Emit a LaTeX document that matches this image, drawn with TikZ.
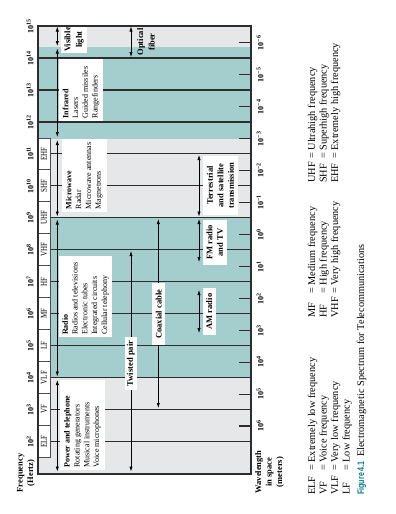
\documentclass[tikz,border=0pt]{standalone}
\usepackage{fontspec}
\setmainfont{Liberation Serif}
\newfontfamily\condfont[FakeStretch=0.78]{Liberation Serif}
\newfontfamily\figfont[FakeStretch=0.75]{Liberation Sans}
\usetikzlibrary{arrows.meta}
\definecolor{tealfill}{RGB}{164,205,205}
\definecolor{grayfill}{RGB}{230,231,233}
\definecolor{lineC}{RGB}{45,45,45}
\definecolor{figteal}{RGB}{0,128,128}
\begin{document}
\begin{tikzpicture}[x=1pt,y=1pt,
  frame/.style={draw=lineC, line width=1.3pt},
  decade/.style={draw=lineC, line width=1.3pt},
  tickmark/.style={draw=lineC, line width=1.3pt},
  band/.style={draw=gray!60!black, fill=white, line width=0.6pt, inner sep=0pt,
    minimum width=31.95pt, minimum height=12pt, font=\condfont\fontsize{9}{10}\selectfont},
  dbl/.style={{Latex[length=5pt,width=3.2pt]}-{Latex[length=5pt,width=3.2pt]}, line width=0.6pt, black},
  wbox/.style={fill=white, inner sep=0pt},
  listtxt/.style={inner sep=2.5pt, align=left, anchor=west, font=\fontsize{8}{9.8}\selectfont},
  blbl/.style={fill=white, inner sep=0pt, align=center, font=\bfseries\fontsize{8.5}{10.5}\selectfont},
  tlbl/.style={inner sep=0pt, align=center, font=\bfseries\fontsize{8.5}{11.5}\selectfont},
  flbl/.style={inner sep=0pt, font=\bfseries\fontsize{8}{9}\selectfont},
  axlbl/.style={inner sep=0pt, align=center, font=\bfseries\fontsize{8.5}{10.5}\selectfont},
  legend/.style={inner sep=0pt, anchor=base west, font=\fontsize{10.3}{12}\selectfont},
]
\useasboundingbox (0,-514) rectangle (396,0);
\begin{scope}[shift={(396,-514)}, rotate=90, transform shape]
% local coordinates: u = 514 - Y (reading direction), v = 396 - X

% backgrounds
\fill[grayfill] (40,145) rectangle (488,358);
\fill[tealfill] (375,145) rectangle (467,358);
\fill[tealfill] (136.55,145) rectangle (296.3,358);

% decade lines
\foreach \k in {2,...,14}
  \draw[decade] ({8.75+31.95*\k},145) -- ({8.75+31.95*\k},358);

% band boxes
\node[band] (elf) at (72.65,352)  {ELF};
\node[band] (vf)  at (104.6,352)  {VF};
\node[band] (vlf) at (136.55,352) {VLF};
\node[band] (lf)  at (168.5,352)  {LF};
\node[band] (mf)  at (200.45,352) {MF};
\node[band] (hf)  at (232.4,352)  {HF};
\node[band] (vhf) at (264.35,352) {VHF};
\node[band] (uhf) at (296.3,352)  {UHF};
\node[band] (shf) at (328.25,352) {SHF};
\node[band] (ehf) at (360.2,352)  {EHF};

% arrow end points
\coordinate (v1) at (487.5,338.7);  \coordinate (v2) at (468,338.7);
\coordinate (ir1) at (465.5,338.7); \coordinate (ir2) at (377,338.7);
\coordinate (mw1) at (374,338.7);   \coordinate (mw2) at (297.5,338.7);
\coordinate (rd1) at (294.5,338.7); \coordinate (rd2) at (137.5,338.7);
\coordinate (pw1) at (134,338.7);   \coordinate (pw2) at (42.5,338.7);
\coordinate (of1) at (487.5,265);   \coordinate (of2) at (457,265);
\coordinate (tp1) at (263,265);     \coordinate (tp2) at (42.5,265);
\coordinate (cx1) at (295,237.7);   \coordinate (cx2) at (106,237.7);
\coordinate (ts1) at (359,197);     \coordinate (ts2) at (297.5,197);
\coordinate (fm1) at (295,197);     \coordinate (fm2) at (252,197);
\coordinate (am1) at (224,197);     \coordinate (am2) at (181,197);

\draw[dbl] (v1) -- (v2);
\draw[dbl] (ir1) -- (ir2);
\draw[dbl] (mw1) -- (mw2);
\draw[dbl] (rd1) -- (rd2);
\draw[dbl] (pw1) -- (pw2);
\draw[dbl] (of1) -- (of2);
\draw[dbl] (tp1) -- (tp2);
\draw[dbl] (cx1) -- (cx2);
\draw[dbl] (ts1) -- (ts2);
\draw[dbl] (fm1) -- (fm2);
\draw[dbl] (am1) -- (am2);

% list boxes
\node[wbox, minimum width=62pt, minimum height=43.4pt] (irbox) at (424.3,315) {};
\node[listtxt] (irtxt) at (irbox.west) {\textbf{Infrared}\\Lasers\\Guided missiles\\Rangefinders};
\node[wbox, minimum width=72.7pt, minimum height=45pt] (mwbox) at (338.7,311.8) {};
\node[listtxt] (mwtxt) at (mwbox.west) {\textbf{Microwave}\\Radar\\Microwave antennas\\Magnetrons};
\node[wbox, minimum width=81.3pt, minimum height=52.4pt] (rdbox) at (217.3,310.5) {};
\node[listtxt] (rdtxt) at (rdbox.west) {\textbf{Radio}\\Radios and televisions\\Electronic tubes\\Integrated circuits\\Cellular telephony};
\node[wbox, minimum width=90pt, minimum height=45pt] (pwbox) at (89,313.5) {};
\node[listtxt] (pwtxt) at (pwbox.west) {\textbf{Power and telephone}\\Rotating generators\\Musical instruments\\Voice microphones};

% bold labels
\node[blbl, minimum width=27pt, minimum height=26pt, font=\bfseries\fontsize{8.5}{11.5}\selectfont] (vis) at (474.5,322) {Visible\\light};
\node[tlbl] (ofib) at (472,250) {Optical\\fiber};
\node[blbl, minimum width=59pt, minimum height=35pt] (terr) at (328.5,175.5) {Terrestrial\\and satellite\\transmission};
\node[blbl, minimum width=45pt, minimum height=23.7pt] (fm) at (271.5,181.2) {FM radio\\and TV};
\node[blbl, minimum width=47pt, minimum height=12.7pt] (am) at (202.5,186.7) {AM radio};
\node[blbl, minimum width=61.7pt, minimum height=12.7pt] (coax) at (199.8,237.3) {Coaxial cable};
\node[blbl, minimum width=53pt, minimum height=11.7pt] (twp) at (150.5,265.2) {Twisted pair};

% frame and wavelength ticks
\draw[frame] (40,145) rectangle (488,358);
\foreach \m in {2,...,14}
  \draw[tickmark] ({23.99+31.95*\m},145) -- ({23.99+31.95*\m},156.7);

% frequency labels
\foreach \k in {2,...,15}
  \node[flbl] (f\k) at ({8.75+31.95*\k},366) {10\textsuperscript{\k}};
% wavelength labels
\foreach \m/\e in {14/−6,13/−5,12/−4,11/−3,10/−2,9/−1,8/0,7/1,6/2,5/3,4/4,3/5,2/6}
  \node[flbl] (w\m) at ({23.99+31.95*\m},136) {10\textsuperscript{\e}};

\node[axlbl] (freqlbl) at (41,370) {Frequency\\(Hertz)};
\node[axlbl] (wavelbl) at (42,126.5) {Wavelength\\in space\\(meters)};

% legend
\node[legend] (lelf) at (19,81)   {\makebox[24pt][l]{ELF}= Extremely low frequency};
\node[legend] (lvf)  at (19,69.5) {\makebox[24pt][l]{VF}= Voice frequency};
\node[legend] (lvlf) at (19,58)   {\makebox[24pt][l]{VLF}= Very low frequency};
\node[legend] (llf)  at (19,46.5) {\makebox[24pt][l]{LF}= Low frequency};
\node[legend] (lmf)  at (196,81)   {\makebox[24pt][l]{MF}= Medium frequency};
\node[legend] (lhf)  at (196,69.5) {\makebox[24pt][l]{HF}= High frequency};
\node[legend] (lvhf) at (196,58)   {\makebox[24pt][l]{VHF}= Very high frequency};
\node[legend] (luhf) at (331,81)   {\makebox[24pt][l]{UHF}= Ultrahigh frequency};
\node[legend] (lshf) at (331,69.5) {\makebox[24pt][l]{SHF}= Superhigh frequency};
\node[legend] (lehf) at (331,58)   {\makebox[24pt][l]{EHF}= Extremely high frequency};
\node[legend] (caption) at (19,32) {\makebox[38pt][l]{\color{figteal}\figfont\bfseries\fontsize{9.5}{10}\selectfont Figure 4.1}Electromagnetic Spectrum for Telecommunications};
\end{scope}
\end{tikzpicture}
\end{document}
